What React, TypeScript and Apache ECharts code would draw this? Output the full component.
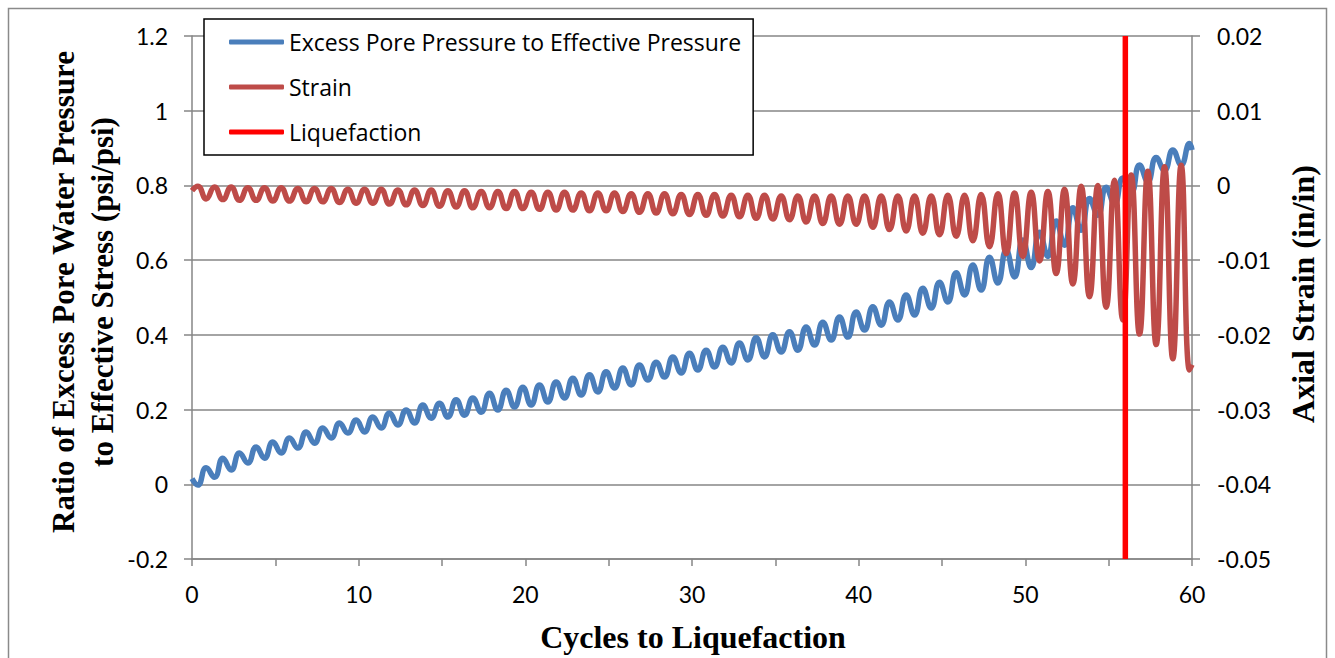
import React, { useEffect, useRef } from "react";
import * as echarts from "echarts";

// Cycle sample positions within each loading cycle (phase of the extremes)
const firstPhase = 0.35;
const secondPhase = 0.85;

// Excess pore pressure ratio: troughs (at cycle + 0.35) and peaks (at cycle + 0.85)
const poreStart = 0.015;
const poreEnd = 0.895;
const poreTroughs = [
  -0.002, 0.019, 0.038, 0.057, 0.07, 0.084, 0.097, 0.11, 0.124, 0.137,
  0.14, 0.151, 0.159, 0.164, 0.177, 0.18, 0.185, 0.193, 0.199, 0.207,
  0.212, 0.22, 0.231, 0.239, 0.247, 0.258, 0.266, 0.279, 0.287, 0.298,
  0.306, 0.314, 0.325, 0.333, 0.341, 0.354, 0.359, 0.373, 0.386, 0.394,
  0.413, 0.426, 0.44, 0.453, 0.472, 0.488, 0.507, 0.52, 0.539, 0.555,
  0.58, 0.61, 0.64, 0.68, 0.72, 0.75, 0.78, 0.81, 0.84, 0.855,
];
const porePeaks = [
  0.044, 0.07, 0.084, 0.1, 0.113, 0.124, 0.14, 0.151, 0.164, 0.172,
  0.18, 0.191, 0.199, 0.212, 0.217, 0.226, 0.231, 0.244, 0.252, 0.26,
  0.266, 0.274, 0.284, 0.293, 0.301, 0.311, 0.319, 0.327, 0.341, 0.351,
  0.359, 0.367, 0.378, 0.392, 0.4, 0.408, 0.421, 0.434, 0.448, 0.461,
  0.475, 0.488, 0.507, 0.525, 0.541, 0.566, 0.587, 0.608, 0.627, 0.654,
  0.675, 0.705, 0.74, 0.765, 0.795, 0.82, 0.855, 0.875, 0.895, 0.912,
];

// Axial strain: peaks (at cycle + 0.35) and troughs (at cycle + 0.85)
const strainStart = -0.0007;
const strainEnd = -0.024;
const strainPeaks = [
  -0.0001, -0.0002, -0.0002, -0.0003, -0.0003, -0.0003, -0.0004, -0.0004, -0.0004, -0.0005,
  -0.0005, -0.0005, -0.0006, -0.0006, -0.0006, -0.0007, -0.0007, -0.0008, -0.0008, -0.0008,
  -0.0009, -0.0009, -0.0009, -0.001, -0.001, -0.001, -0.0011, -0.0011, -0.0011, -0.0012,
  -0.0012, -0.0012, -0.0013, -0.0013, -0.0013, -0.0014, -0.0014, -0.0014, -0.0014, -0.0014,
  -0.0014, -0.0014, -0.0014, -0.0014, -0.0014, -0.0013, -0.0013, -0.0012, -0.0011, -0.001,
  -0.0009, -0.0008, -0.0005, -0.0001, 0.0, 0.0007, 0.0014, 0.0019, 0.0025, 0.0027,
];
const strainTroughs = [
  -0.0018, -0.0019, -0.002, -0.002, -0.0021, -0.0021, -0.0022, -0.0022, -0.0023, -0.0024,
  -0.0024, -0.0025, -0.0026, -0.0027, -0.0028, -0.0029, -0.003, -0.003, -0.0031, -0.0031,
  -0.0032, -0.0033, -0.0033, -0.0034, -0.0034, -0.0035, -0.0036, -0.0037, -0.0038, -0.0039,
  -0.004, -0.0041, -0.0042, -0.0044, -0.0045, -0.0046, -0.0049, -0.0051, -0.0052, -0.0052,
  -0.0056, -0.0059, -0.0061, -0.0064, -0.0066, -0.0068, -0.0074, -0.0082, -0.0091, -0.0095,
  -0.0101, -0.0118, -0.0132, -0.0149, -0.0163, -0.018, -0.0199, -0.0213, -0.0232, -0.0247,
];

// Liquefaction marker
const liquefactionCycle = 56;
const liquefactionRange = [-0.2, 1.2];

const xMax = 60;

function buildWave(start: number, first: number[], second: number[], end: number) {
  const pts: number[][] = [[0, start]];
  for (let i = 0; i < first.length; i++) {
    pts.push([i + firstPhase, first[i]]);
    pts.push([i + secondPhase, second[i]]);
  }
  pts.push([xMax, end]);
  return pts;
}

const GRID = "#868686";
const TICK_FONT = "Lato";
const LEGEND_FONT = "'Open Sans'";
const TITLE_FONT = "'Liberation Serif', 'Times New Roman', serif";

export default function App() {
  const ref = useRef<HTMLDivElement>(null);
  useEffect(() => {
    if (!ref.current) return;
    const chart = echarts.init(ref.current, null, { renderer: "svg" });
    const axisLabel = { color: "#000", fontFamily: TICK_FONT, fontSize: 23 };
    chart.setOption({
      animation: false,
      backgroundColor: "#fff",
      grid: { left: 192, right: 143, top: 36, bottom: 99, containLabel: false, outerBoundsMode: "none" },
      legend: {
        orient: "vertical",
        left: 204,
        top: 19,
        padding: [11, 12, 11, 25],
        itemGap: 21,
        itemWidth: 55,
        itemHeight: 5,
        icon: "roundRect",
        borderColor: "#000",
        borderWidth: 1.5,
        backgroundColor: "#fff",
        textStyle: { color: "#000", fontFamily: LEGEND_FONT, fontSize: 23, lineHeight: 24 },
        data: ["Excess Pore Pressure to Effective Pressure", "Strain", "Liquefaction"],
      },
      xAxis: {
        type: "value",
        min: 0,
        max: xMax,
        interval: 5,
        axisLine: { show: true, onZero: false, lineStyle: { color: GRID, width: 1.5 } },
        axisTick: { show: true, length: 7, lineStyle: { color: GRID, width: 1.5 } },
        axisLabel: {
          ...axisLabel,
          margin: 23,
          formatter: (v: number) => (v % 10 === 0 ? String(v) : ""),
        },
        splitLine: { show: false },
      },
      yAxis: [
        {
          type: "value",
          min: -0.2,
          max: 1.2,
          interval: 0.2,
          position: "left",
          axisLine: { show: true, onZero: false, lineStyle: { color: GRID, width: 1.5 } },
          axisTick: { show: true, length: 8, lineStyle: { color: GRID, width: 1.5 } },
          axisLabel: { ...axisLabel, margin: 24 },
          splitLine: { show: true, lineStyle: { color: GRID, width: 1.5 } },
        },
        {
          type: "value",
          min: -0.05,
          max: 0.02,
          interval: 0.01,
          position: "right",
          axisLine: { show: true, onZero: false, lineStyle: { color: GRID, width: 1.5 } },
          axisTick: { show: true, length: 8, lineStyle: { color: GRID, width: 1.5 } },
          axisLabel: { ...axisLabel, margin: 25 },
          splitLine: { show: false },
        },
      ],
      series: [
        {
          name: "Excess Pore Pressure to Effective Pressure",
          type: "line",
          yAxisIndex: 0,
          data: buildWave(poreStart, poreTroughs, porePeaks, poreEnd),
          smooth: 0.5,
          showSymbol: false,
          symbol: "none",
          color: "#4A7EBB",
          lineStyle: { color: "#4A7EBB", width: 5.5 },
        },
        {
          name: "Strain",
          type: "line",
          yAxisIndex: 1,
          data: buildWave(strainStart, strainPeaks, strainTroughs, strainEnd),
          smooth: 0.5,
          showSymbol: false,
          symbol: "none",
          color: "#BE4B48",
          lineStyle: { color: "#BE4B48", width: 5.5 },
        },
        {
          name: "Liquefaction",
          type: "line",
          yAxisIndex: 0,
          data: liquefactionRange.map((y) => [liquefactionCycle, y]),
          showSymbol: false,
          symbol: "none",
          color: "#FF0000",
          lineStyle: { color: "#FF0000", width: 5.5 },
        },
      ],
      graphic: [
        {
          type: "rect",
          silent: true,
          shape: { x: 8.5, y: 8.5, width: 1318, height: 700 },
          style: { fill: "none", stroke: "#8a8a8a", lineWidth: 1.5 },
          z: -10,
        },
        {
          type: "text",
          x: 83,
          y: 292,
          rotation: Math.PI / 2,
          style: {
            text: "Ratio of Excess Pore Water Pressure\nto Effective Stress (psi/psi)",
            fontFamily: TITLE_FONT,
            fontWeight: "bold",
            fontSize: 31,
            lineHeight: 39,
            fill: "#000",
            align: "center",
            verticalAlign: "middle",
          },
        },
        {
          type: "text",
          x: 1303,
          y: 294,
          rotation: Math.PI / 2,
          style: {
            text: "Axial Strain (in/in)",
            fontFamily: TITLE_FONT,
            fontWeight: "bold",
            fontSize: 32,
            fill: "#000",
            align: "center",
            verticalAlign: "middle",
          },
        },
        {
          type: "text",
          x: 693,
          y: 637,
          style: {
            text: "Cycles to Liquefaction",
            fontFamily: TITLE_FONT,
            fontWeight: "bold",
            fontSize: 32,
            fill: "#000",
            align: "center",
            verticalAlign: "middle",
          },
        },
      ],
    });
    return () => chart.dispose();
  }, []);
  return (
    <div
      ref={ref}
      style={{ position: "absolute", left: 0, top: 0, width: 1335, height: 658 }}
    />
  );
}
